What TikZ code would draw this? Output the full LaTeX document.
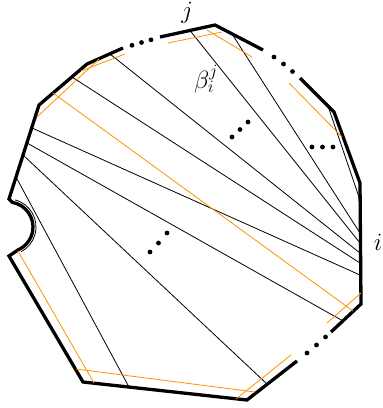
\documentclass[tikz,border=0pt]{standalone}
\definecolor{orng}{RGB}{255,145,0}
\begin{document}
\begin{tikzpicture}[x=1pt,y=-1pt,
  bd/.style={line width=3.3pt, line join=miter},
  chord/.style={line width=0.8pt},
  orl/.style={draw=orng, line width=0.8pt},
  lab/.style={font=\fontsize{23}{27}\selectfont, inner sep=0pt}]
\useasboundingbox (0,0) rectangle (383,408);
% polygon vertices
\coordinate (P1) at (123,48);
\coordinate (B) at (87,64);
\coordinate (A) at (39,105);
\coordinate (V) at (9,199);
\coordinate (I) at (9,256);
\coordinate (H) at (83,382);
\coordinate (G) at (247,400);
\coordinate (P2) at (297,361);
\coordinate (P3) at (160,37);
\coordinate (C) at (215,25);
\coordinate (P4) at (263,50);
\coordinate (P5) at (300,78);
\coordinate (D) at (334,112);
\coordinate (E) at (360,183);
\coordinate (F) at (361,304);
\coordinate (P6) at (331,332);
% boundary
\draw[bd] (P1) -- (B) -- (A) -- (V) -- (12.34,202.38) arc[start angle=-80, end angle=66, radius=25] -- (I) -- (H) -- (G) -- (P2);
\draw[bd] (P3) -- (C) -- (P4);
\draw[bd] (P5) -- (D) -- (E) -- (F) -- (P6);
\draw[chord] (15.25,199.95) arc[start angle=-75, end angle=62, radius=28];
% boundary dots
\foreach \p in {(132,45.3),(141.5,42.5),(151,39.8),(274,57),(283.5,64),(292.5,71.5),(325.5,337),(316.5,345),(307,353)}
  \fill \p circle (2.4);
% chords
\draw[chord] (110,54) -- (360,253);
\draw[chord] (72,77) -- (360,263);
\draw[chord] (32,128) -- (360,275);
\draw[chord] (27,143) -- (343,321);
\draw[chord] (23,155) -- (267,384);
\draw[chord] (16,177) -- (129,387);
\draw[chord] (190,30.5) -- (360,243);
\draw[chord] (232,34) -- (360,233);
\draw[chord] (328,106) -- (360,200);
% orange
\draw[orl] (37,117) -- (99,59);
\draw[orl] (81,71) -- (125,54);
\draw[orl] (168,43) -- (222,32);
\draw[orl] (207,30) -- (252,57);
\draw[orl] (289,83) -- (342,137);
\draw[orl] (53,93) -- (353,311);
\draw[orl] (327,323) -- (361,293);
\draw[orl] (236,399) -- (291,355);
\draw[orl] (76,369) -- (255,392);
\draw[orl] (18,251) -- (94,383);
% inner dots
\foreach \p in {(232,137),(240,129.5),(248,122),(312,147),(322.5,147),(333,147),(150,252),(158.5,243),(167,233)}
  \fill \p circle (2.4);
% labels
\node[lab] (lj) at (187,13) {$j$};
\node[lab] (li) at (378,242) {$i$};
\node[lab] (lb) at (206,79) {$\beta_i^j$};
\end{tikzpicture}
\end{document}
